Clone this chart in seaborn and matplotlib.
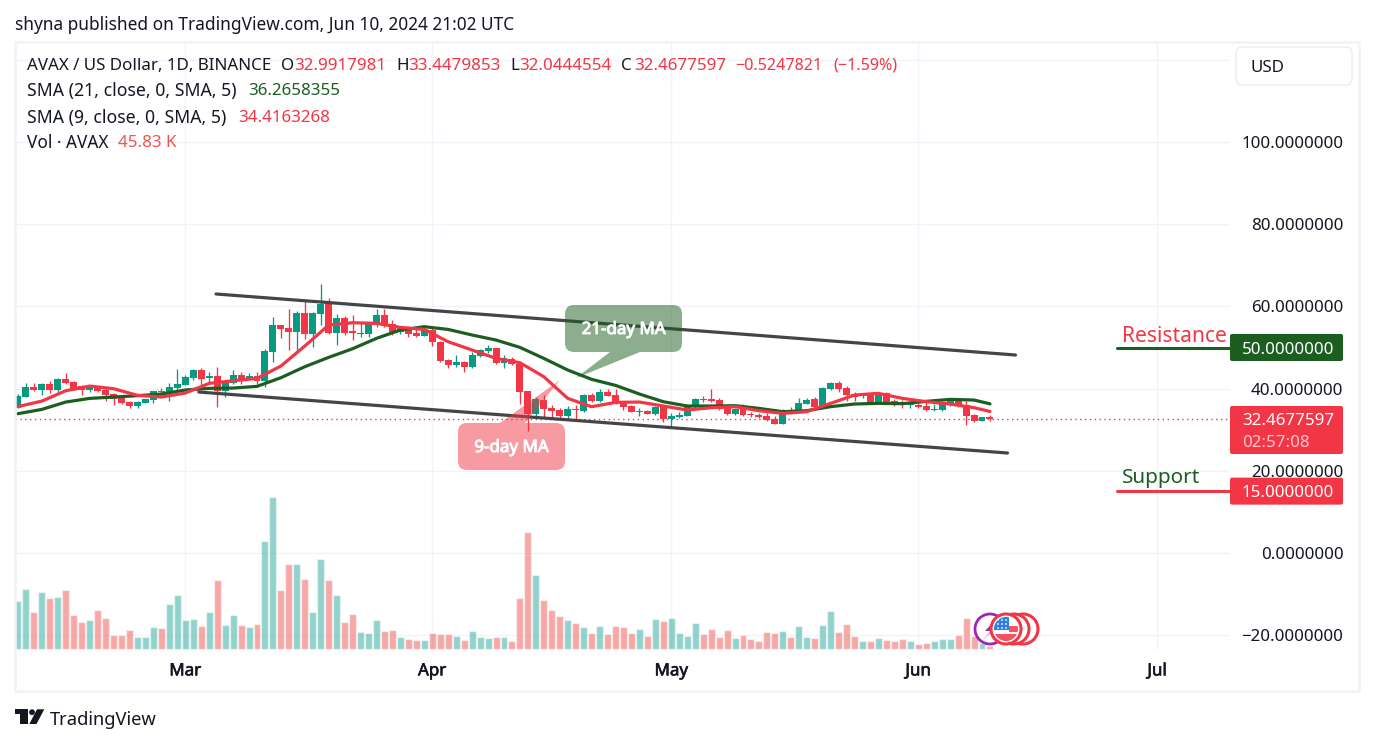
import numpy as np
import pandas as pd
import seaborn as sns
import matplotlib
matplotlib.use("Agg")
import matplotlib.pyplot as plt
import matplotlib.patheffects as pe
from matplotlib.patches import FancyBboxPatch, Polygon, Circle, Rectangle

# Daily AVAX/USD candles, 9 Feb 2024 (day 0) to 10 Jun 2024 (day 122)
opens = [35.33,38.01,40.37,39.64,41.10,39.64,42.32,41.59,40.61,39.64,40.37,39.64,38.66,37.68,36.71,35.74,36.47,37.20,39.39,39.15,
         40.12,40.85,42.56,44.51,42.56,43.05,39.39,41.34,43.29,42.56,43.05,41.83,48.90,55.48,54.74,53.77,58.40,53.28,58.16,60.59,
         53.53,57.18,54.01,53.36,53.36,55.48,57.91,55.72,53.69,54.90,53.45,52.88,54.26,51.33,46.95,45.73,46.46,45.24,47.92,49.06,
         49.87,46.22,47.27,45.97,39.39,33.79,37.20,35.25,34.76,33.30,35.00,34.52,38.42,36.95,39.15,38.42,36.39,35.74,34.27,34.52,
         33.87,35.49,32.57,33.06,33.30,35.50,37.45,37.45,37.20,35.50,33.79,35.25,33.79,33.55,33.30,32.57,31.35,34.77,34.28,36.23,
         37.45,35.50,39.88,41.34,40.13,38.66,38.18,38.42,36.47,38.90,36.96,36.70,35.98,35.98,35.74,34.77,34.77,35.98,36.88,35.98,
         33.55,32.08,32.99]
highs = [38.66,41.26,41.26,41.26,41.75,42.56,43.78,41.75,40.80,40.85,40.60,39.80,38.90,38.00,36.90,36.90,37.50,39.50,40.12,41.34,
         44.75,43.29,44.75,45.00,44.02,45.24,42.07,44.51,44.02,43.78,44.02,49.63,57.43,55.50,59.38,58.89,61.57,58.64,65.47,62.06,
         58.16,57.67,57.90,55.90,56.00,59.38,59.38,56.70,55.07,55.20,54.66,55.20,55.07,51.50,47.20,48.17,46.78,48.98,49.60,50.68,
         50.00,48.17,47.70,46.00,39.50,37.93,38.42,35.98,35.25,35.74,35.98,38.66,38.80,39.88,39.80,39.80,36.79,36.00,35.25,34.80,
         35.74,35.90,33.95,34.28,36.23,37.69,38.18,39.88,37.69,35.70,35.20,36.23,34.28,33.95,33.95,33.30,35.00,35.50,37.69,37.69,
         37.93,40.45,41.50,41.83,40.61,39.15,39.00,38.60,38.90,39.10,37.45,37.20,36.88,36.70,36.70,36.23,36.50,37.00,37.20,36.96,
         33.79,33.10,33.45]
lows = [35.33,38.00,39.39,38.42,38.99,39.15,41.10,39.64,38.42,39.15,39.20,37.04,35.98,36.30,35.25,35.25,36.47,36.47,38.42,36.95,
        39.15,40.85,42.07,40.85,41.59,35.49,37.93,41.20,41.10,42.40,41.10,40.37,46.46,52.31,49.38,48.65,52.06,50.12,55.48,53.28,
        50.60,53.04,51.82,52.60,52.60,55.07,54.90,53.04,53.28,52.60,52.60,52.70,50.36,46.50,45.00,45.32,44.02,45.10,47.80,48.57,
        46.10,45.00,45.73,36.22,29.64,32.81,32.80,32.73,32.73,32.32,32.32,34.20,36.80,36.80,38.10,36.20,34.76,34.20,33.30,33.70,
        33.50,31.92,30.62,32.90,33.20,35.30,36.70,36.80,34.80,33.60,33.60,33.30,33.06,32.70,32.10,31.35,31.30,33.79,34.20,36.20,
        35.40,35.40,39.70,39.15,36.96,36.96,37.69,36.30,36.30,36.50,35.80,35.25,35.25,35.30,34.60,34.52,34.60,35.80,35.60,31.11,
        31.90,32.00,32.04]
closes = [38.18,40.37,39.64,41.10,39.64,42.32,41.34,39.88,39.64,40.37,39.39,38.42,37.44,36.47,35.74,36.71,37.44,39.39,39.15,40.37,
          41.10,42.80,44.51,42.32,43.05,39.39,41.83,43.29,42.07,43.05,41.83,49.14,55.48,54.50,53.77,58.40,53.28,58.40,60.59,53.53,
          57.18,53.53,53.45,53.53,55.88,57.91,55.48,53.77,54.74,53.36,52.88,54.26,51.33,46.70,45.73,46.46,45.24,48.17,49.38,49.79,
          46.22,47.43,45.97,39.15,33.79,37.44,35.00,34.52,33.30,35.00,34.84,38.42,36.95,39.15,38.18,36.39,35.57,34.27,34.44,33.87,
          35.49,32.57,33.30,33.55,35.74,37.45,37.20,36.96,35.00,33.79,35.00,33.55,33.55,33.06,32.33,31.35,34.77,34.44,36.47,37.20,
          35.50,40.13,41.34,39.88,38.42,37.93,38.42,36.47,38.42,36.70,35.98,36.55,36.23,35.50,34.77,35.00,36.23,36.88,35.74,33.30,
          32.08,33.06,32.47]
# Volume in thousands of AVAX
volumes = [878,1098,677,1043,933,952,1080,622,494,531,714,567,256,256,348,220,220,403,384,824,
           988,531,549,421,677,1263,439,622,439,403,458,1976,2782,1080,1556,1556,1281,677,1647,1263,
           988,494,640,311,293,531,329,348,220,183,165,165,293,275,275,238,165,329,220,201,
           220,220,146,933,2141,1354,897,714,604,531,476,403,293,421,275,421,403,293,366,238,
           549,512,567,293,238,476,275,366,220,348,201,256,183,146,311,293,329,220,421,220,
           201,439,695,311,458,238,146,146,201,165,146,183,146,92,110,146,183,183,256,567,
           238,110,46]

# Moving averages read every third session
sma_days = [0,3,6,9,12,15,18,21,24,27,30,33,36,39,42,45,48,51,54,57,60,63,66,69,72,75,78,81,84,87,90,93,96,99,102,105,108,111,114,117,120,122]
sma9 = [35.6,36.95,39.47,40.6,39.96,38.34,37.93,38.9,41.26,41.9,42.48,45.48,50.36,55.48,56.04,55.88,54.9,54.4,51.4,49.38,47.35,
        46.3,42.88,37.6,35.57,36.63,36.71,35.74,34.77,35.33,35.58,34.6,33.95,34.36,36.39,38.42,38.83,37.61,36.8,36.23,35.33,34.42]
sma21 = [33.87,34.92,36.71,37.6,37.93,38.26,38.66,39.64,40.04,40.12,40.53,42.64,45.32,47.6,49.7,52.23,54.26,55.07,54.4,53.04,51.82,
         50.03,47.35,44.51,42.24,40.77,38.66,36.79,35.74,35.74,35.82,35.17,34.36,34.6,35.58,36.23,36.39,36.31,36.88,37.36,37.2,36.27]

# Hand-drawn descending channel: (day, price) end points
channel_upper_days, channel_upper_prices = [24.85, 125.2], [63.04, 48.17]
channel_lower_days, channel_lower_prices = [22.7, 124.2], [39.15, 24.29]

resistance_level = 50.0
support_level = 15.0
last_price = 32.4677597

month_days = [21, 52, 82, 113, 143]
month_labels = ["Mar", "Apr", "May", "Jun", "Jul"]
price_ticks = [-20, 0, 20, 40, 60, 80, 100, 120]
price_labels = ["\u221220.0000000", "0.0000000", "20.0000000", "40.0000000", "60.0000000", "80.0000000", "100.0000000", ""]

WIDTH, HEIGHT = 1374, 744
FONT = ["Noto Sans", "DejaVu Sans"]
INK = "#131722"
UP, DOWN = "#089981", "#f23645"
MA_GREEN = "#1b5e20"
GRID = "#f0f3fa"
MID = "center_baseline"
semi_bold = [pe.withStroke(linewidth=0.45, foreground=INK)]
white_bold = [pe.withStroke(linewidth=0.7, foreground="white")]

sns.set_theme(style="white")
plt.rcParams["font.family"] = FONT

fig = plt.figure(figsize=(WIDTH / 100, HEIGHT / 100), dpi=100, facecolor="white")
PANE_L, PANE_R, PANE_T, PANE_B = 15, 1230, 42, 649.5
ax = fig.add_axes([PANE_L / WIDTH, 1 - PANE_B / HEIGHT, (PANE_R - PANE_L) / WIDTH, (PANE_B - PANE_T) / HEIGHT])
ax.set_xlim((PANE_L - 18) / 7.967, (PANE_R - 18) / 7.967)
ax.set_ylim((552.7 - PANE_B) / 4.104, (552.7 - PANE_T) / 4.104)
ax.set_facecolor("white")
for s in ax.spines.values():
    s.set_visible(False)

days = np.arange(len(closes))
o, h, l, c = map(np.array, (opens, highs, lows, closes))
rising = c >= o

# Volume pane shares the time axis and sits along the bottom
vol_ax = ax.twinx()
vol_df = pd.DataFrame({"day": days, "volume": volumes, "side": np.where(rising, "up", "down")})
sns.barplot(data=vol_df, x="day", y="volume", hue="side", palette={"up": "#26a69a", "down": "#ef5350"},
            native_scale=True, dodge=False, width=0.875, saturation=1, alpha=0.5, legend=False, ax=vol_ax)
vol_ax.set_ylim(-0.5 * 18.3, (649 - PANE_T) * 18.3)
vol_ax.set_ylabel("")
vol_ax.set_xlabel("")
vol_ax.tick_params(left=False, right=False, labelleft=False, labelright=False)
vol_ax.set_facecolor("none")
for s in vol_ax.spines.values():
    s.set_visible(False)

# Candlesticks
colors = np.where(rising, UP, DOWN)
ax.vlines(days, l, h, colors=colors, linewidth=0.95, zorder=3)
ax.bar(days, np.maximum(np.abs(c - o), 0.12), bottom=np.minimum(o, c), width=0.875, color=colors, linewidth=0, zorder=4)

# Moving averages and channel
sns.lineplot(x=sma_days, y=sma21, color=MA_GREEN, linewidth=2.3, ax=ax, zorder=5, errorbar=None)
sns.lineplot(x=sma_days, y=sma9, color=DOWN, linewidth=2.3, ax=ax, zorder=5.5, errorbar=None)
ax.plot(channel_upper_days, channel_upper_prices, color="#454545", lw=2.3, zorder=6)
ax.plot(channel_lower_days, channel_lower_prices, color="#454545", lw=2.3, zorder=6)

# Last-close dotted line
ax.axhline(last_price, color=DOWN, lw=1, ls=(0, (1, 2.5)), zorder=2)

# Axes, ticks, grid
ax.set_xticks(month_days, month_labels)
ax.set_yticks(price_ticks, price_labels)
ax.yaxis.tick_right()
ax.grid(True, color=GRID, lw=1)
ax.set_axisbelow(True)
ax.tick_params(axis="x", length=0, pad=10, labelsize=12.2, labelcolor=INK)
ax.tick_params(axis="y", length=0, pad=1, labelsize=12.2, labelcolor=INK)
for t in ax.get_yticklabels():
    t.set_ha("right")
    t.set_x(1.0 + 112 / (PANE_R - PANE_L))
for t in ax.get_xticklabels():
    t.set_path_effects(semi_bold)

# Key levels drawn past the pane edge
for level, col in ((resistance_level, MA_GREEN), (support_level, DOWN)):
    ax.plot([(1117 - 18) / 7.967, (1232 - 18) / 7.967], [level, level], color=col, lw=2.2, zorder=7, clip_on=False,
            solid_capstyle="round")

# Pixel-addressed layer for everything around the chart
top = fig.add_axes([0, 0, 1, 1], zorder=10)
top.set_xlim(0, WIDTH)
top.set_ylim(HEIGHT, 0)
top.axis("off")
top.patch.set_alpha(0)


def price_y(v):
    return HEIGHT - ax.transData.transform((0, v))[1]


def rounded(x0, y0, x1, y1, r, **kw):
    p = FancyBboxPatch((x0 + r, y0 + r), x1 - x0 - 2 * r, y1 - y0 - 2 * r,
                       boxstyle=f"round,pad={r},rounding_size={r}", **kw)
    top.add_patch(p)
    return p


# Outer frame and currency button
top.add_patch(Rectangle((15, 42), 1343.5, 648.5, fc="none", ec=GRID, lw=1.8))
rounded(1236, 47, 1352, 85, 6, fc="white", ec="#e9ecf2", lw=1)
top.text(1250, 66, "USD", fontsize=12.2, color=INK, va=MID, ha="left")

# Header and indicator legend
top.text(15, 23, "shyna published on TradingView.com, Jun 10, 2024 21:02 UTC", fontsize=12.45, color=INK, va=MID)
LEG = 12.2
top.text(27, 64, "AVAX / US Dollar, 1D, BINANCE", fontsize=LEG, color=INK, va=MID)
for x, label, value in [(281, "O", "32.9917981"), (396, "H", "33.4479853"), (510, "L", "32.0444554"), (621, "C", "32.4677597")]:
    top.text(x, 64, label, fontsize=LEG, color=INK, va=MID)
    top.text(x + (13 if label in "OC" else (12 if label == "H" else 9)), 64, value, fontsize=LEG, color=DOWN, va=MID)
top.text(735, 64, "\u22120.5247821", fontsize=11.6, color=DOWN, va=MID)
top.text(833, 64, "(\u22121.59%)", fontsize=11.6, color=DOWN, va=MID)
top.text(27, 89, "SMA (21, close, 0, SMA, 5)", fontsize=12.7, color=INK, va=MID)
top.text(248, 89, "36.2658355", fontsize=LEG, color=MA_GREEN, va=MID)
top.text(27, 116, "SMA (9, close, 0, SMA, 5)", fontsize=12.7, color=INK, va=MID)
top.text(238, 116, "34.4163268", fontsize=LEG, color=DOWN, va=MID)
top.text(27, 141, "Vol \u00b7 AVAX", fontsize=12.4, color=INK, va=MID)
top.text(118, 141, "45.83 K", fontsize=LEG, color="#ef5350", va=MID)

# Callouts for the two averages
rounded(565, 305, 682, 352, 9, fc=MA_GREEN, ec="none", alpha=0.5)
top.add_patch(Polygon([(610, 352), (640, 352), (576, 378)], fc=MA_GREEN, ec="none", alpha=0.5))
top.text(623.5, 328, "21-day MA", fontsize=12.2, color="white", ha="center", va=MID, path_effects=white_bold)
rounded(458, 423, 565, 470, 9, fc=DOWN, ec="none", alpha=0.5)
top.add_patch(Polygon([(500, 423), (525, 423), (560, 380)], fc=DOWN, ec="none", alpha=0.5))
top.text(511.5, 446, "9-day MA", fontsize=12.2, color="white", ha="center", va=MID, path_effects=white_bold)

# Level labels on the price scale
top.text(1122, 334, "Resistance", fontsize=15.1, color=DOWN, va=MID, ha="left")
top.text(1122, 475, "Support", fontsize=14.9, color=MA_GREEN, va=MID, ha="left")
for level, col, label in ((resistance_level, MA_GREEN, "50.0000000"), (support_level, DOWN, "15.0000000")):
    y = price_y(level)
    rounded(1230, y - 13.5, 1343, y + 13.5, 2, fc=col, ec="none", zorder=3)
    top.text(1334, y, label, fontsize=12.2, color="white", ha="right", va=MID, zorder=4)
rounded(1230, 406, 1343, 454, 2, fc=DOWN, ec="none", zorder=3)
top.text(1334, price_y(last_price), "32.4677597", fontsize=12.2, color="white", ha="right", va=MID, zorder=4)
top.text(1242, 441, "02:57:08", fontsize=12.2, color="#fbc5c9", ha="left", va=MID, zorder=4)

# Event markers near the latest bars
top.add_patch(Circle((990, 629), 15, fc="white", ec="#9c27b0", lw=2, zorder=5))
top.add_patch(Polygon([(998, 617), (985, 631), (991, 631), (982, 641), (996, 627), (990, 627)], fc="#9c27b0", ec="none", zorder=5.1))
for cx in (1023, 1014, 1006):
    top.add_patch(Circle((cx, 629), 15, fc="white", ec=DOWN, lw=2.2, zorder=6))
flag = Circle((1006, 629), 12, transform=top.transData)
flag_parts = [Rectangle((1009, 626), 12, 5.5, fc="#f7525f", ec="none", zorder=6.2),
              Rectangle((993, 634), 26, 9, fc="#f7525f", ec="none", zorder=6.2),
              Rectangle((993, 617), 16, 13, fc="#2d7fe8", ec="none", zorder=6.3)]
for part in flag_parts:
    top.add_patch(part)
    part.set_clip_path(flag)
for sx in (998, 1002, 1006):
    for sy in (620, 624, 628):
        star = Circle((sx, sy), 0.9, fc="white", ec="none", zorder=6.4)
        top.add_patch(star)
        star.set_clip_path(flag)

# Brand mark
top.add_patch(Polygon([(15, 709.3), (28, 709.3), (28, 724), (20, 724), (20, 714.2), (15, 714.2)], fc=INK, ec="none"))
top.add_patch(Circle((32, 712.2), 2.9, fc=INK, ec="none"))
top.add_patch(Polygon([(37, 709.3), (44.3, 709.3), (36.5, 724), (29.3, 724)], fc=INK, ec="none"))
top.text(50, 718, "TradingView", fontsize=13.2, color=INK, va=MID, ha="left")

fig.savefig("out.png", dpi=100, facecolor="white")
